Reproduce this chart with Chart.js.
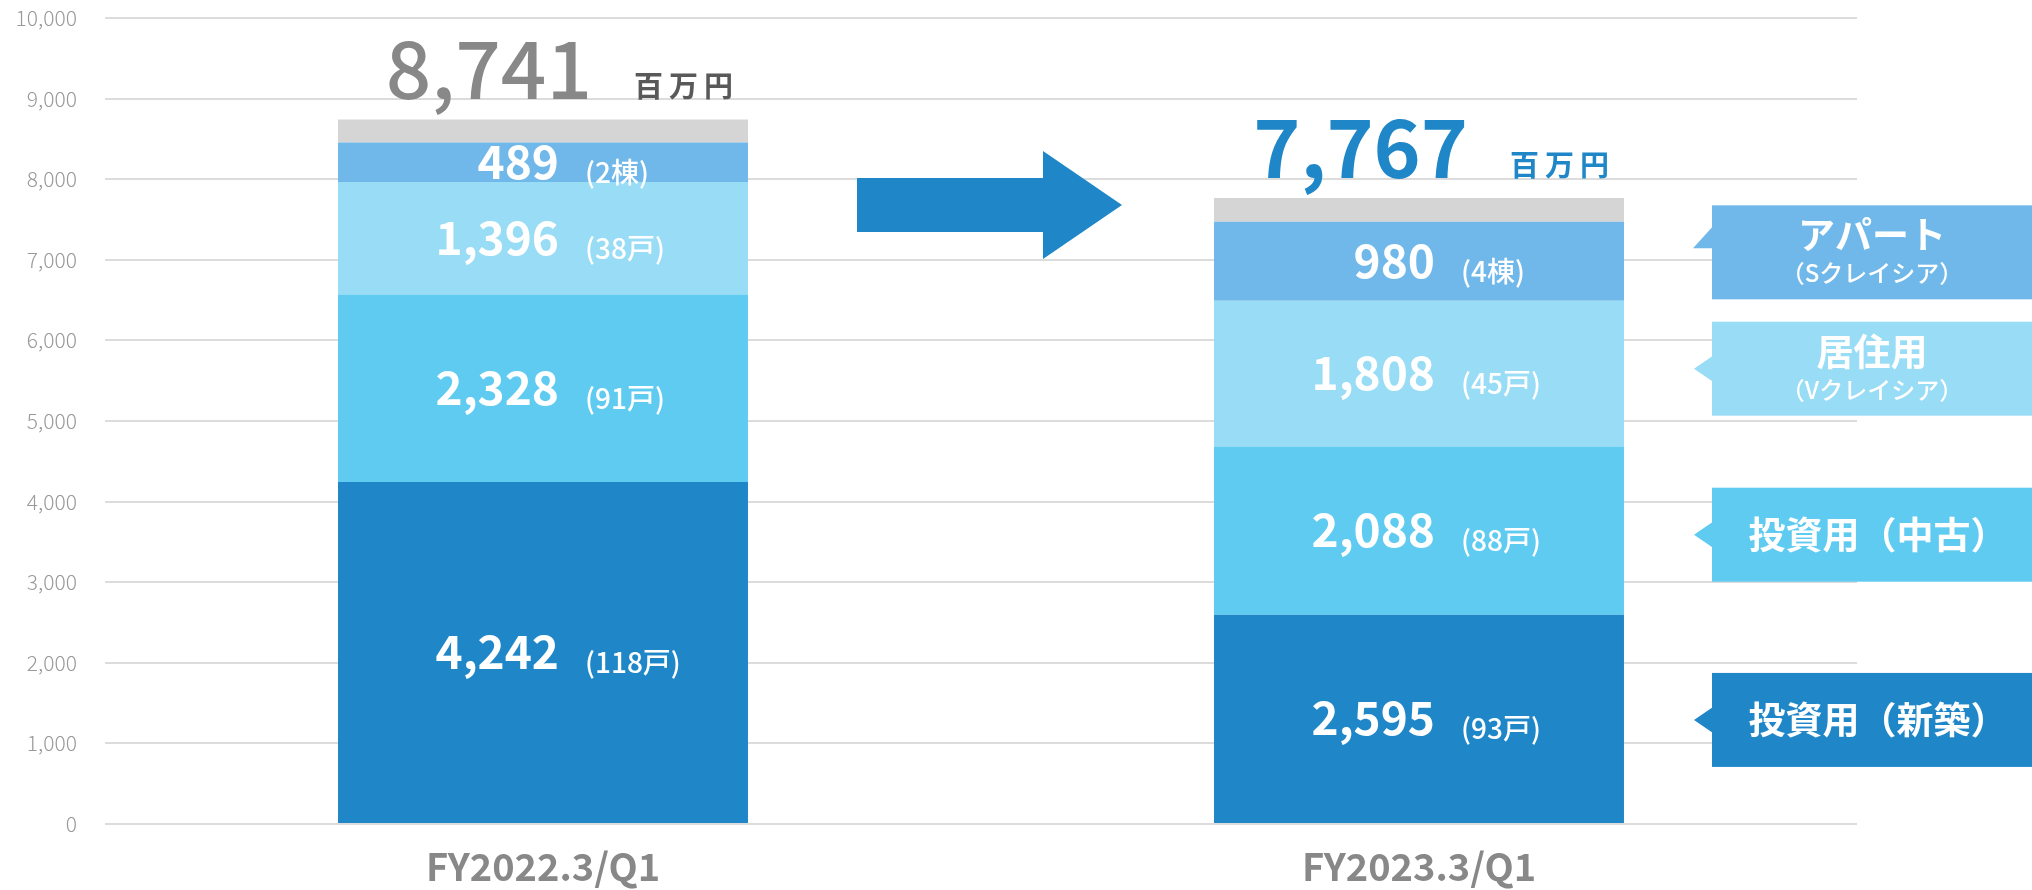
<!DOCTYPE html>
<html>
<head>
<meta charset="utf-8">
<script src="https://cdn.jsdelivr.net/npm/chart.js@4/dist/chart.umd.min.js"></script>
<style>
html,body{margin:0;padding:0;background:#fff;}
#wrap{width:2032px;height:890px;}
</style>
</head>
<body>
<div id="wrap"><canvas id="c" width="2032" height="890"></canvas></div>
<script>
// ---- data ----
const categories = ['FY2022.3/Q1', 'FY2023.3/Q1'];
const shinchiku = [4242, 2595];   // 投資用（新築）
const chuko = [2328, 2088];       // 投資用（中古）
const kyojuu = [1396, 1808];      // 居住用
const apart = [489, 980];         // アパート
const other = [286, 296];         // その他
const totals = [8741, 7767];
const unitsShinchiku = ['(118戸)', '(93戸)'];
const unitsChuko = ['(91戸)', '(88戸)'];
const unitsKyojuu = ['(38戸)', '(45戸)'];
const unitsApart = ['(2棟)', '(4棟)'];
const calloutLabels = [['投資用（新築）'], ['投資用（中古）'], ['居住用', '（Vクレイシア）'], ['アパート', '（Sクレイシア）']];
const yMax = 10000, yStep = 1000;
const totalUnit = '百万円';

const COLORS = ['#1f87c8', '#5fcbf1', '#98dcf5', '#70b8ea', '#d5d5d5'];
const FONT = "'Noto Sans CJK JP','Noto Sans',sans-serif";
const segUnits = [unitsShinchiku, unitsChuko, unitsKyojuu, unitsApart];
const calloutShift = [1, 4, -5, -9];

const overlay = {
  id: 'overlay',
  afterDatasetsDraw(chart) {
    const ctx = chart.ctx;
    const y = chart.scales.y;
    const x = chart.scales.x;
    const ca = chart.chartArea;
    ctx.save();
    // segment labels
    for (let d = 0; d < 4; d++) {
      const meta = chart.getDatasetMeta(d);
      meta.data.forEach((el, j) => {
        const mid = (el.y + el.base) / 2;
        const v = chart.data.datasets[d].data[j];
        ctx.fillStyle = '#ffffff';
        ctx.textBaseline = 'alphabetic';
        ctx.textAlign = 'right';
        ctx.font = `bold 46px ${FONT}`;
        const base = mid + 16.5;
        ctx.fillText(v.toLocaleString('en-US'), el.x + 16, base);
        ctx.textAlign = 'left';
        ctx.font = `500 28px ${FONT}`;
        ctx.fillText(segUnits[d][j], el.x + 42, base + 4);
      });
    }
    // totals on top
    totals.forEach((t, j) => {
      const cx = x.getPixelForValue(j);
      const top = y.getPixelForValue(t);
      const col = j === 0 ? '#888888' : '#1f87c8';
      ctx.fillStyle = col;
      ctx.textAlign = 'right';
      ctx.textBaseline = 'alphabetic';
      ctx.font = `${j === 0 ? 500 : 'bold'} 80px ${FONT}`;
      ctx.fillText(t.toLocaleString('en-US'), cx + 49, top - 20);
      ctx.fillStyle = j === 0 ? '#595959' : '#1f87c8';
      ctx.font = `bold 29px ${FONT}`;
      ctx.textAlign = 'left';
      [...totalUnit].forEach((ch, k) => {
        ctx.fillText(ch, cx + 91 + k * 35, top - 22);
      });
    });
    // arrow between bars
    const ax = (x.getPixelForValue(0) + x.getPixelForValue(1)) / 2;
    const ay = y.getPixelForValue(7680);
    ctx.fillStyle = '#1f87c8';
    ctx.beginPath();
    ctx.moveTo(ax - 124, ay - 27);
    ctx.lineTo(ax + 62, ay - 27);
    ctx.lineTo(ax + 62, ay - 54);
    ctx.lineTo(ax + 141, ay);
    ctx.lineTo(ax + 62, ay + 54);
    ctx.lineTo(ax + 62, ay + 27);
    ctx.lineTo(ax - 124, ay + 27);
    ctx.closePath();
    ctx.fill();
    // callouts for the second bar
    const bx = ca.right - 145;
    const bw = chart.width - bx;
    const bh = 94;
    for (let d = 0; d < 4; d++) {
      const el = chart.getDatasetMeta(d).data[1];
      const cy = (el.y + el.base) / 2 + calloutShift[d];
      ctx.fillStyle = COLORS[d];
      ctx.fillRect(bx, cy - bh / 2, bw, bh);
      ctx.beginPath();
      if (d === 3) {
        ctx.moveTo(bx + 1, cy - 26);
        ctx.lineTo(bx - 19, cy - 4);
        ctx.lineTo(bx + 1, cy - 4);
      } else {
        ctx.moveTo(bx + 1, cy - 13);
        ctx.lineTo(bx - 18, cy);
        ctx.lineTo(bx + 1, cy + 13);
      }
      ctx.closePath();
      ctx.fill();
      ctx.fillStyle = '#ffffff';
      ctx.textAlign = 'center';
      ctx.textBaseline = 'middle';
      const tx = bx + bw / 2 + 6;
      const lines = calloutLabels[d];
      if (lines.length === 1) {
        ctx.font = `bold 37px ${FONT}`;
        ctx.fillText(lines[0], tx, cy);
      } else {
        ctx.font = `bold 37px ${FONT}`;
        ctx.fillText(lines[0], tx - 6, cy - 17);
        ctx.font = `500 24px ${FONT}`;
        ctx.fillText(lines[1], tx - 6, cy + 21);
      }
    }
    ctx.restore();
  }
};

const names = ['投資用（新築）', '投資用（中古）', '居住用', 'アパート', 'その他'];
const series = [shinchiku, chuko, kyojuu, apart, other];

new Chart(document.getElementById('c'), {
  type: 'bar',
  data: {
    labels: categories,
    datasets: series.map((s, i) => ({
      label: names[i],
      data: s,
      backgroundColor: COLORS[i],
      borderWidth: 0,
      categoryPercentage: 1,
      barPercentage: 0.468
    }))
  },
  options: {
    responsive: false,
    devicePixelRatio: 1,
    animation: false,
    layout: { padding: { top: 18, right: 175, left: 0, bottom: 0 } },
    plugins: { legend: { display: false }, tooltip: { enabled: false } },
    scales: {
      x: {
        stacked: true,
        grid: { display: false, drawTicks: false },
        border: { display: false },
        ticks: { color: '#888888', font: { family: FONT, size: 38, weight: 'bold' }, padding: 20 },
        afterFit(s) { s.height = 66; }
      },
      y: {
        stacked: true,
        min: 0,
        max: yMax,
        grid: { color: '#dcdcdc', lineWidth: 2, drawTicks: false },
        border: { display: false },
        ticks: {
          stepSize: yStep,
          color: '#999999',
          padding: 28,
          font: { family: FONT, size: 21, weight: 300 },
          callback: v => v.toLocaleString('en-US')
        },
        afterFit(s) { s.width = 105; s.paddingTop = 0; s.paddingBottom = 0; }
      }
    }
  },
  plugins: [overlay]
});
</script>
</body>
</html>
